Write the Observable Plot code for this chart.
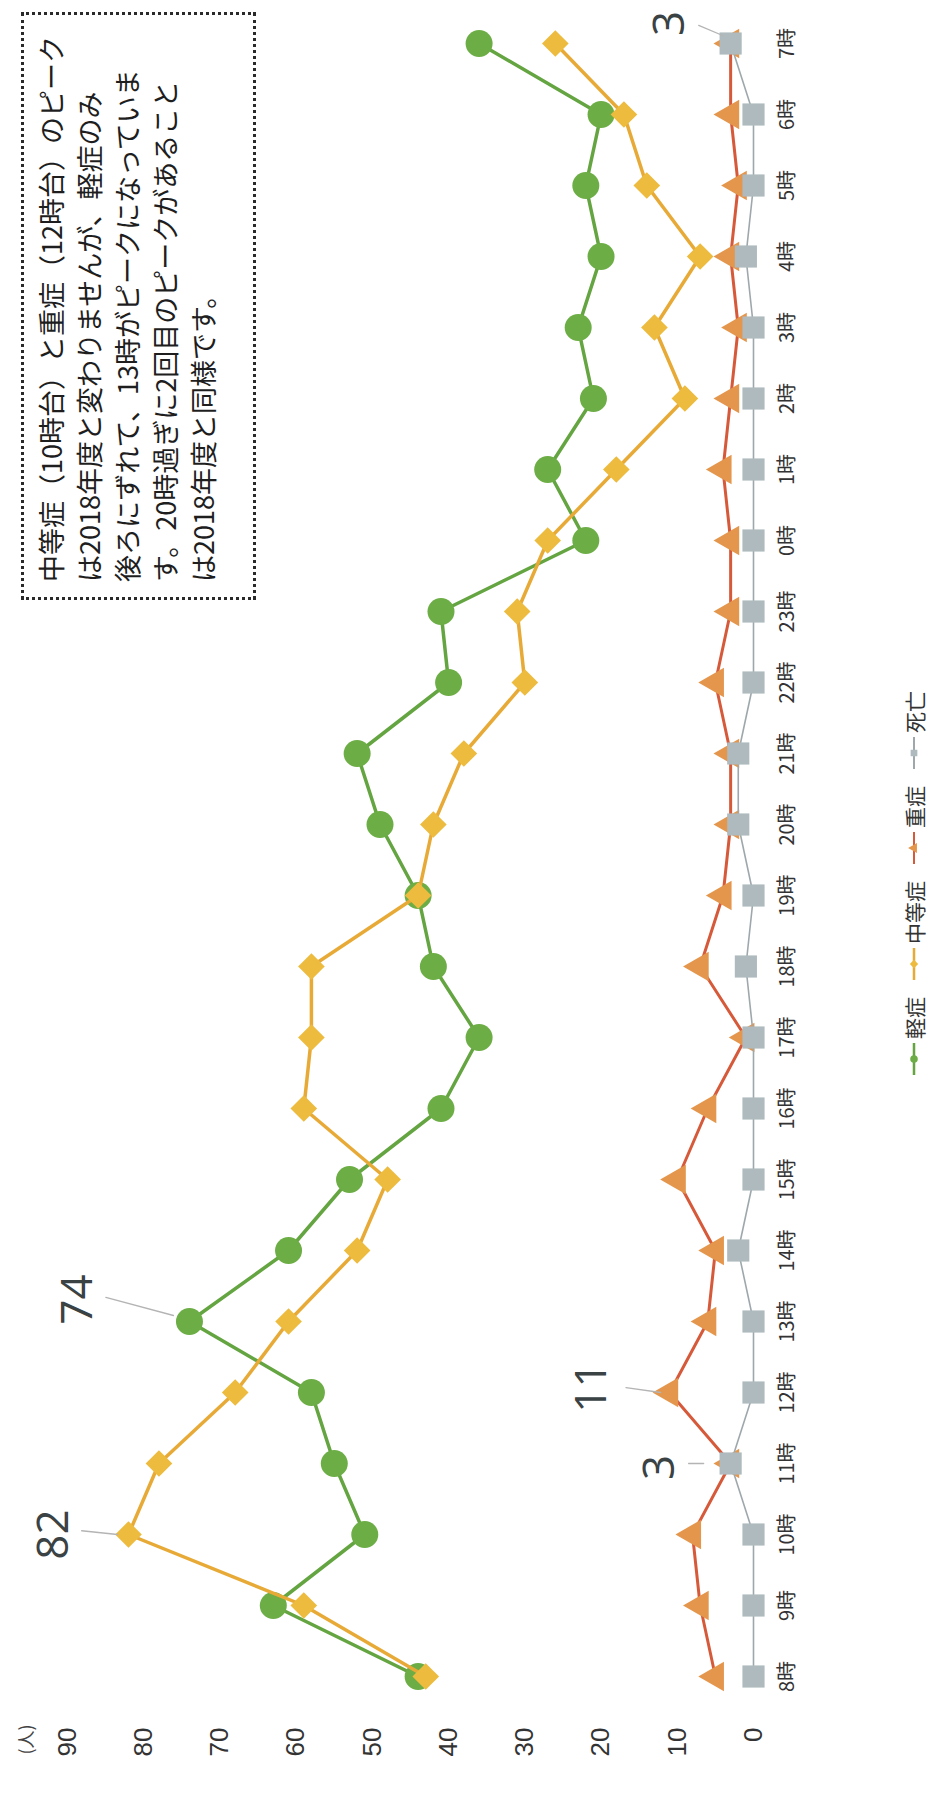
<!DOCTYPE html>
<html>
<head>
<meta charset="utf-8">
<script src="https://cdn.jsdelivr.net/npm/d3@7"></script>
<script src="https://cdn.jsdelivr.net/npm/@observablehq/plot@0.6"></script>
<style>
html, body { margin: 0; padding: 0; background: #fff; }
body { width: 937px; height: 1819px; overflow: hidden; position: relative;
       font-family: "Noto Sans CJK JP", "Noto Sans", sans-serif; }
#rot { position: absolute; left: 0; top: 0; width: 1819px; height: 937px;
       transform-origin: 0 0; transform: translate(0, 1819px) rotate(-90deg); }
#chart { position: absolute; left: 0; top: 0; }
#note { position: absolute; left: 1219px; top: 21px; width: 567px; height: 221px;
        border: 3px dotted #2a2a2a; padding: 8px 0 0 15px; box-sizing: content-box;
        font-size: 27px; line-height: 38px; color: #1e1e1e; white-space: nowrap; }
#legend { position: absolute; top: 899px; left: 936px; transform: translateX(-50%);
          display: flex; gap: 17px; align-items: center; font-size: 21px; color: #333;
          white-space: nowrap; }
#legend .item { display: flex; align-items: center; gap: 4px; }
</style>
</head>
<body>
<div id="rot">
  <div id="chart"></div>
  <div id="note"></div>
  <div id="legend"></div>
</div>
<script>
// ---- data ----
const hours = ["8時","9時","10時","11時","12時","13時","14時","15時","16時","17時","18時","19時",
               "20時","21時","22時","23時","0時","1時","2時","3時","4時","5時","6時","7時"];
const light    = [44,63,51,55,58,74,61,53,41,36,42,44,49,52,40,41,22,27,21,23,20,22,20,36];
const moderate = [43,59,82,78,68,61,52,48,59,58,58,44,42,38,30,31,27,18, 9,13, 7,14,17,26];
const severe   = [ 5, 7, 8, 3,11, 6, 5,10, 6, 1, 7, 4, 3, 3, 5, 3, 3, 4, 3, 2, 3, 2, 3, 3];
const death    = [ 0, 0, 0, 3, 0, 0, 2, 0, 0, 0, 1, 0, 2, 2, 0, 0, 0, 0, 0, 0, 1, 0, 0, 3];
const seriesNames = ["軽症","中等症","重症","死亡"];
const yTicks = [0,10,20,30,40,50,60,70,80,90];
const yUnit = "(人)";
const noteLines = [
  "中等症（10時台）と重症（12時台）のピーク",
  "は2018年度と変わりませんが、軽症のみ",
  "後ろにずれて、13時がピークになっていま",
  "す。20時過ぎに2回目のピークがあること",
  "は2018年度と同様です。"
];

// ---- styles ----
const style = {
  "軽症":   {vals: light,    line: "#64a541", fill: "#6cad45", symbol: "circle",   r: 13.5, sw: 3.5},
  "中等症": {vals: moderate, line: "#e8aa37", fill: "#edbb3e", symbol: "diamond2", r: 12,   sw: 3.5},
  "重症":   {vals: severe,   line: "#d65a3a", fill: "#e4964c", symbol: "triangle", r: 11,   sw: 3},
  "死亡":   {vals: death,    line: "#9ea8ac", fill: "#aebabe", symbol: "square",   r: 12.5, sw: 1.6}
};

const rows = hours.map((h, i) => {
  const o = {hour: h};
  for (const s of seriesNames) o[s] = style[s].vals[i];
  return o;
});

function seriesMarks(name) {
  const st = style[name];
  return [
    Plot.line(rows, {x: "hour", y: name, stroke: st.line, strokeWidth: st.sw}),
    Plot.dot(rows, {x: "hour", y: name, symbol: st.symbol, r: st.r, fill: st.fill, stroke: "none"})
  ];
}

const leaderShape = { draw(ctx, l) { ctx.moveTo(0, 0); ctx.lineTo(0, -l); } };
function annot(name, hour, o) {
  const d = [{hour, value: style[name].vals[hours.indexOf(hour)]}];
  return [
    Plot.vector(d, {x: "hour", y: "value", length: o.len, rotate: o.rot, anchor: "start",
                    shape: leaderShape, stroke: "#b4b4b4", strokeWidth: 1.3, dx: o.ldx, dy: o.ldy}),
    Plot.text(d, {x: "hour", y: "value", text: dd => String(dd.value), dx: o.dx, dy: o.dy,
                  fontSize: 44, fill: "#3a4244", fontFamily: "'Open Sans', 'Noto Sans', sans-serif"})
  ];
}

const chart = Plot.plot({
  width: 1819, height: 890,
  marginLeft: 100, marginRight: 0, marginTop: 0, marginBottom: 137,
  x: {type: "point", domain: hours, range: [134, 1783], padding: 0},
  y: {domain: [0, 90], range: [753, 67]},
  style: {fontFamily: "'Noto Sans CJK JP', 'Noto Sans', sans-serif", background: "transparent", overflow: "visible"},
  marks: [
    Plot.axisX({tickSize: 0, tickPadding: 26, fontSize: 20, fill: "#333", label: null}),
    Plot.axisY({ticks: yTicks, tickSize: 0, tickPadding: 9, fontSize: 26, fill: "#333", label: null,
                fontFamily: "'Liberation Sans', Arial, sans-serif"}),
    Plot.text([yUnit], {frameAnchor: "top-left", dx: -21, dy: 20, fontSize: 18, fill: "#444", textAnchor: "middle"}),
    ...seriesMarks("重症"),
    ...seriesMarks("死亡"),
    ...seriesMarks("軽症"),
    ...seriesMarks("中等症"),
    ...annot("中等症", "10時", {dx: 0,  dy: -75,  ldx: 0,  ldy: -11, len: 36, rot: 6}),
    ...annot("軽症",   "13時", {dx: 22, dy: -112, ldx: 6,  ldy: -16, len: 70, rot: 15}),
    ...annot("重症",   "12時", {dx: 5,  dy: -78,  ldx: 0,  ldy: -9,  len: 35, rot: 8}),
    ...annot("死亡",   "11時", {dx: -4, dy: -71,  ldx: 0,  ldy: -27, len: 15, rot: 0}),
    ...annot("死亡",   "7時",  {dx: 20, dy: -61,  ldx: 8,  ldy: -8,  len: 26, rot: 23})
  ]
});
document.getElementById("chart").appendChild(chart);

// note box
const note = document.getElementById("note");
for (const t of noteLines) {
  const div = document.createElement("div");
  div.textContent = t;
  note.appendChild(div);
}

// legend
const legend = d3.select("#legend");
const symMap = {circle: d3.symbolCircle, diamond2: d3.symbolDiamond2, triangle: d3.symbolTriangle, square: d3.symbolSquare};
for (const name of seriesNames) {
  const st = style[name];
  const item = legend.append("div").attr("class", "item");
  const svg = item.append("svg").attr("width", 32).attr("height", 16);
  svg.append("line").attr("x1", 0).attr("x2", 32).attr("y1", 8).attr("y2", 8)
     .attr("stroke", st.line).attr("stroke-width", Math.max(2, st.sw - 1));
  svg.append("path").attr("transform", "translate(16,8)")
     .attr("d", d3.symbol(symMap[st.symbol], 45)()).attr("fill", st.fill);
  item.append("span").text(name);
}
</script>
</body>
</html>
